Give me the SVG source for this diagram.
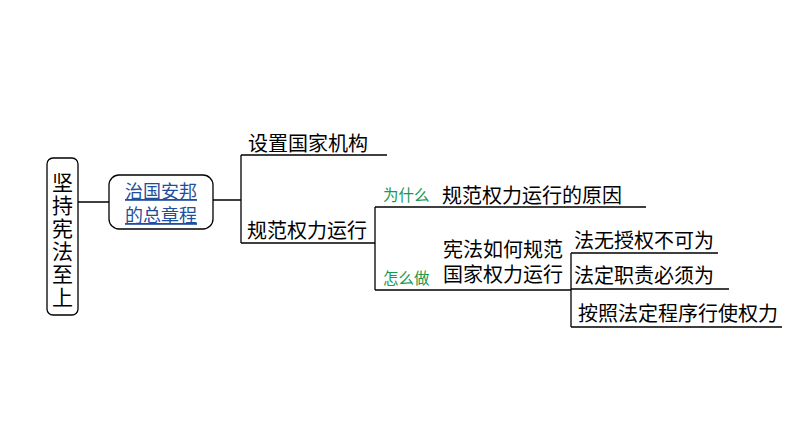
<svg xmlns="http://www.w3.org/2000/svg" width="794" height="447" viewBox="0 0 794 447">
<style>
text{font-family:"Noto Sans CJK SC","Liberation Sans",sans-serif;fill:#000}
.t{font-size:20px}
.g{font-size:15.5px;fill:#1a9850}
.l{stroke:#000;stroke-width:1.3;fill:none}
.b{fill:#fff;stroke:#000;stroke-width:1.3}
</style>
<rect width="794" height="447" fill="#fff"/>
<g id="connectors">
<path class="l" d="M78 202H109M213 200H241M241 155V243M241 155H387M241 243H375M375 207V290M375 207H646M375 290H571M571 253V327M571 253H718M571 289H729M571 327H782"/>
</g>
<g id="root">
<rect class="b" x="47" y="158" width="31" height="157" rx="6"/>
<text font-size="21" text-anchor="middle"><tspan x="62.5" y="190">坚</tspan><tspan x="62.5" y="213">持</tspan><tspan x="62.5" y="236">宪</tspan><tspan x="62.5" y="259">法</tspan><tspan x="62.5" y="282">至</tspan><tspan x="62.5" y="305">上</tspan></text>
</g>
<g id="n1">
<rect class="b" x="109" y="175" width="104" height="54" rx="10"/>
<text font-size="18" x="161" y="198" text-anchor="middle" style="fill:#1f4e9c" text-decoration="underline">治国安邦</text>
<text font-size="18" x="161" y="222" text-anchor="middle" style="fill:#1f4e9c" text-decoration="underline">的总章程</text>
</g>
<g id="n2"><text class="t" x="248" y="151">设置国家机构</text></g>
<g id="n3"><text class="t" x="247" y="238">规范权力运行</text></g>
<g id="n4"><text class="g" x="383" y="201">为什么</text><text class="t" x="442" y="203">规范权力运行的原因</text></g>
<g id="n5"><text class="g" x="383" y="284">怎么做</text><text class="t" x="443" y="257">宪法如何规范</text><text class="t" x="443" y="282">国家权力运行</text></g>
<g id="n6"><text class="t" x="574" y="248">法无授权不可为</text></g>
<g id="n7"><text class="t" x="574" y="283">法定职责必须为</text></g>
<g id="n8"><text class="t" x="578" y="321">按照法定程序行使权力</text></g>
</svg>
